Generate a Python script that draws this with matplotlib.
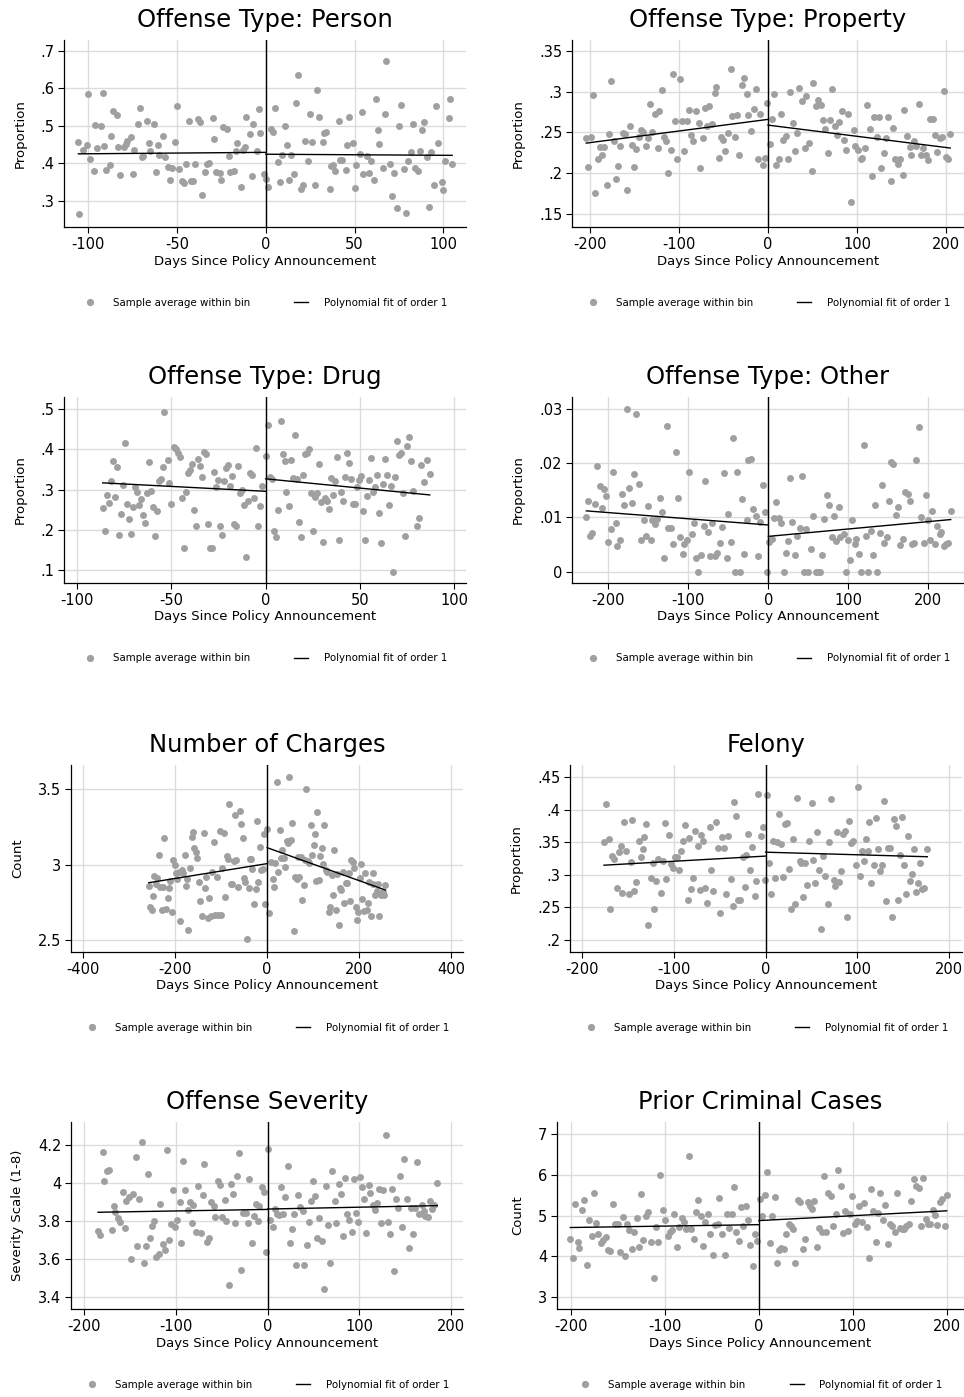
import matplotlib
matplotlib.use("Agg")
import matplotlib.pyplot as plt
from matplotlib.lines import Line2D

plt.rcParams["font.family"] = ["DejaVu Sans"]

# ---------------------------------------------------------------------
# Binned sample means (day, value) for each outcome
# ---------------------------------------------------------------------
person_pts = [
    (-105.6, .456), (-105.4, .264), (-103, .436), (-101, .449), (-100, .585), (-99, .412), (-97, .378), (-96, .503), (-95, .440), (-93, .499),
    (-92, .587), (-91, .447), (-90, .381), (-88, .396), (-87, .472), (-86, .540), (-84, .528), (-83, .442), (-82, .369), (-80, .442),
    (-79, .451), (-78, .460), (-76, .469), (-75, .371), (-74, .436), (-72, .504), (-71, .547), (-70, .416), (-69, .419), (-67, .513),
    (-66, .454), (-65, .433), (-63, .504), (-62, .376), (-61, .449), (-60, .421), (-58, .472), (-57, .417), (-55, .391), (-54, .355),
    (-53, .387), (-51, .456), (-50, .553), (-49, .385), (-47, .352), (-46, .346), (-45, .398), (-43, .513), (-42, .352), (-41, .352),
    (-40, .399), (-38, .518), (-37, .510), (-36, .316), (-34, .376), (-33, .399), (-32, .400), (-30, .521), (-29, .464), (-28, .376),
    (-26, .375), (-25, .356), (-24, .497), (-22, .490), (-21, .420), (-20, .376), (-18, .378), (-17, .433), (-16, .454), (-14, .337),
    (-13, .435), (-12, .444), (-11, .522), (-9, .479), (-8, .366), (-7, .504), (-5, .433), (-4, .544), (-3, .480), (-1, .371),
    (0, .358), (1, .337), (3, .490), (4, .483), (5, .548), (7, .402), (8, .351), (9, .422), (11, .500), (12, .449),
    (13, .356), (14, .423), (16, .372), (17, .561), (18, .636), (20, .332), (21, .341), (22, .459), (24, .406), (25, .530),
    (26, .456), (28, .342), (29, .594), (30, .524), (32, .456), (33, .480), (34, .483), (36, .330), (37, .392), (38, .394),
    (39, .380), (41, .513), (42, .408), (43, .408), (45, .381), (46, .449), (47, .522), (49, .454), (50, .334), (51, .396),
    (53, .424), (54, .536), (55, .371), (57, .419), (58, .375), (59, .405), (61, .355), (62, .571), (63, .489), (64, .452),
    (66, .388), (67, .531), (68, .672), (70, .399), (71, .313), (72, .375), (74, .280), (75, .499), (76, .555), (78, .385),
    (79, .267), (80, .405), (82, .431), (83, .504), (84, .388), (86, .380), (87, .433), (88, .488), (89, .509), (91, .416),
    (92, .284), (93, .429), (95, .341), (96, .552), (97, .455), (99, .350), (100, .328), (101, .407), (103, .520), (104, .570),
    (105, .397),
]

property_pts = [
    (-204, .243), (-201.5, .208), (-199, .245), (-196, .296), (-194, .176), (-191, .218), (-189, .232), (-186, .223), (-184, .232), (-181, .186),
    (-178, .248), (-176, .313), (-173, .239), (-171, .193), (-168, .209), (-166, .234), (-163, .249), (-160, .248), (-158, .180), (-155, .258),
    (-153, .235), (-150, .208), (-148, .230), (-145, .244), (-142, .253), (-140, .250), (-137, .233), (-135, .243), (-132, .285), (-130, .251),
    (-127, .273), (-124, .231), (-122, .276), (-119, .302), (-117, .244), (-114, .240), (-112, .201), (-109, .229), (-107, .321), (-104, .264),
    (-102, .217), (-99, .315), (-96, .264), (-94, .227), (-91, .264), (-89, .277), (-86, .247), (-84, .239), (-81, .276), (-78, .262),
    (-76, .206), (-73, .243), (-71, .280), (-68, .258), (-66, .282), (-63, .260), (-60, .298), (-58, .305), (-55, .219), (-53, .245),
    (-50, .241), (-48, .227), (-45, .249), (-42, .327), (-40, .270), (-37, .245), (-35, .271), (-32, .223), (-29, .308), (-27, .317),
    (-24, .297), (-22, .271), (-19, .252), (-16, .279), (-14, .303), (-11, .218), (-9, .273), (-6, .210), (-3, .219), (-1, .286),
    (2, .236), (4.5, .267), (7, .297), (9, .210), (12, .217), (15, .273), (17, .241), (20, .246), (22, .217), (25, .299),
    (28, .262), (30, .227), (33, .249), (35, .304), (38, .289), (41, .231), (43, .294), (46, .237), (49, .203), (51, .310),
    (54, .282), (56, .290), (59, .284), (62, .265), (64, .254), (67, .225), (70, .265), (72, .303), (75, .258), (77, .247),
    (80, .263), (83, .276), (85, .241), (88, .229), (90, .272), (93, .165), (96, .253), (98, .234), (101, .228), (104, .218),
    (106, .219), (109, .231), (111, .283), (114, .254), (117, .197), (119, .269), (122, .245), (125, .269), (127, .207), (130, .225),
    (133, .243), (135, .269), (138, .191), (140, .256), (143, .217), (146, .211), (148, .217), (151, .198), (153, .277), (156, .246),
    (159, .232), (161, .222), (164, .240), (166, .233), (169, .285), (172, .222), (174, .231), (177, .222), (180, .216), (182, .266),
    (185, .266), (187, .247), (190, .226), (193, .243), (195, .244), (197, .301), (200, .220), (202, .217), (204.5, .248),
]

drug_pts = [
    (-86.4, .254), (-85.3, .198), (-84.3, .288), (-83.2, .267), (-82, .321), (-81, .372), (-80, .281), (-79, .356), (-77.7, .187), (-76.7, .239),
    (-75.6, .311), (-74.6, .417), (-73.5, .264), (-72.4, .227), (-71.4, .189), (-70.3, .258), (-69.3, .306), (-68.2, .294), (-67, .262), (-66, .277),
    (-65, .236), (-64, .217), (-63, .293), (-61.8, .368), (-60.8, .297), (-59.7, .258), (-58.7, .185), (-57.6, .248), (-56.5, .322), (-55.5, .326),
    (-54.4, .356), (-53.9, .492), (-52, .374), (-51, .317), (-50, .264), (-48.8, .406), (-47.7, .400), (-46.6, .392), (-45.6, .382), (-44.5, .280),
    (-43.5, .155), (-42.4, .295), (-41.3, .342), (-40.3, .350), (-39.2, .364), (-38.2, .250), (-37.1, .210), (-36, .375), (-35, .360), (-33.9, .331),
    (-32.9, .393), (-31.8, .388), (-30.7, .216), (-29.7, .155), (-28.6, .155), (-27.6, .343), (-26.5, .307), (-25.4, .324), (-24.4, .210), (-23.3, .188),
    (-22.3, .321), (-21.2, .354), (-20.1, .362), (-19.1, .309), (-18, .335), (-17, .215), (-15.9, .211), (-14.8, .360), (-13.8, .292), (-12.7, .300),
    (-11.7, .261), (-10.6, .134), (-9.5, .272), (-8.5, .342), (-7.4, .336), (-6.4, .280), (-5.3, .403), (-4.2, .211), (-3.2, .259), (-2.1, .308),
    (0.2, .384), (1.4, .461), (2.5, .331), (3.5, .326), (4.6, .197), (5.7, .183), (6.7, .250), (8, .471), (9, .388), (10, .371),
    (11, .295), (12.2, .260), (13.3, .374), (14.3, .328), (15.4, .436), (16.4, .326), (17.7, .219), (18.7, .183), (19.8, .337), (20.8, .389),
    (21.9, .390), (23, .402), (24, .293), (25, .198), (26, .282), (27.2, .293), (28.3, .363), (29.3, .270), (30.4, .169), (31.4, .279),
    (32.5, .272), (33.6, .253), (34.6, .330), (35.7, .288), (36.7, .321), (37.8, .380), (38.9, .176), (39.9, .295), (41, .273), (42, .331),
    (43.1, .390), (44.2, .367), (45.2, .326), (46.3, .264), (47.3, .264), (48.4, .307), (49.5, .324), (50.5, .334), (51.6, .248), (52.7, .174),
    (53.7, .284), (54.8, .324), (55.8, .379), (56.9, .295), (57.9, .307), (59, .336), (60, .242), (61.1, .167), (62.2, .314), (63.3, .376),
    (64.3, .336), (65.4, .261), (66.4, .310), (67.5, .097), (68.5, .331), (69.6, .421), (70.7, .385), (71.7, .390), (72.8, .293), (73.9, .184),
    (74.9, .408), (76, .431), (77, .372), (78, .298), (80, .209), (81.3, .231), (82.5, .362), (84, .320), (85.5, .374), (87, .340),
]

other_pts = [
    (-227.5, .0100), (-225.4, .0130), (-223, .0066), (-220, .0071), (-217, .0125), (-214, .0194), (-211, .0158), (-208, .0117), (-206, .0153), (-203, .0139),
    (-200, .0055), (-197, .0079), (-194, .0183), (-191, .0089), (-189, .0047), (-186, .0059), (-183, .0144), (-180, .0122), (-177, .0299), (-174, .0154),
    (-171, .0126), (-168, .0180), (-165, .0291), (-162, .0162), (-159, .0058), (-156, .0095), (-153, .0065), (-150, .0121), (-147, .0058), (-145, .0095),
    (-142, .0087), (-139, .0097), (-136, .0135), (-133, .0110), (-130, .0025), (-127, .0268), (-125, .0080), (-122, .0080), (-119, .0051), (-116, .0220),
    (-113, .0135), (-110, .0064), (-107, .0033), (-105, .0051), (-102, .0058), (-99, .0184), (-96, .0070), (-93, .0090), (-90, .0026), (-87.5, 0),
    (-84, .0031), (-81, .0084), (-79, .0168), (-76, .0073), (-73, .0028), (-70, .0090), (-67, .0028), (-64, .0034), (-61, .0052), (-58, .0082),
    (-55, .0181), (-52, .0026), (-50, .0106), (-47, .0055), (-44, .0247), (-42, 0), (-39, .0184), (-36, 0), (-33, .0133), (-30, .0032),
    (-27, .0095), (-25, .0206), (-22, .0207), (-19, .0116), (-16, .0103), (-13, .0028), (-10, .0092), (-7, .0159), (-4, .0110), (-2, 0),
    (1, .0054), (4, .0060), (7, .0098), (10, .0129), (13, .0099), (16, .0090), (19, 0), (22, .0034), (25, .0057), (27, .0172),
    (30, .0092), (33, .0031), (36, .0066), (39, .0080), (42, .0176), (44.5, 0), (47, .0078), (50, 0), (53, .0041), (56, .0102),
    (59, 0), (62, 0), (65, 0), (67.5, .0031), (70, .0097), (73, .0141), (76, .0122), (79, .0063), (82, .0103), (85, .0056),
    (88, .0119), (90, .0064), (94, .0070), (96.5, 0), (99.5, .0058), (102, .0022), (105, .0096), (108, .0051), (110, .0061), (113, .0032),
    (116, 0), (119, .0233), (122, .0066), (125, 0), (128, .0075), (131, .0030), (133, .0123), (136, 0), (139, .0071), (142, .0160),
    (145, .0053), (148, .0063), (151, .0131), (153, .0203), (156, .0199), (159, .0105), (162, .0119), (165, .0049), (168, .0061), (171, .0146),
    (174, .0143), (177, .0131), (180, .0050), (182.5, .0053), (185, .0206), (188, .0267), (191, .0100), (194, .0052), (197, .0142), (200, .0095),
    (202, .0058), (205, .0111), (208, .0051), (211, .0084), (214, .0069), (216, .0073), (219, .0048), (222, .0050), (224, .0052), (228, .0112),
]

charges_pts = [
    (-257, 2.859), (-255, 2.717), (-251, 2.700), (-248, 2.793), (-245, 2.926), (-242, 2.868), (-240, 2.908), (-235, 3.065), (-232, 2.850), (-229, 2.695),
    (-226, 2.850), (-223, 3.178), (-220, 2.702), (-216, 2.777), (-213, 2.844), (-210, 2.888), (-207, 2.686), (-204, 3.032), (-201, 2.999), (-197, 2.946),
    (-195, 2.906), (-192, 2.948), (-189, 2.626), (-186, 2.961), (-183, 2.943), (-179, 3.061), (-177, 2.857), (-174, 2.906), (-171, 2.567), (-168, 2.974),
    (-164, 3.185), (-161, 3.218), (-158, 3.108), (-155, 3.084), (-152, 3.044), (-148, 2.886), (-145, 2.755), (-142, 2.655), (-138, 3.210), (-135, 2.846),
    (-132, 2.919), (-129, 2.642), (-126, 2.777), (-122, 2.660), (-119, 2.952), (-116, 3.152), (-113, 2.662), (-109, 2.917), (-106, 2.664), (-103, 3.225),
    (-100, 2.662), (-97, 2.979), (-94, 3.212), (-91, 2.784), (-88, 3.059), (-85, 3.034), (-82, 3.400), (-79, 2.873), (-76, 2.873), (-72, 3.023),
    (-69, 3.329), (-67, 3.030), (-63, 2.848), (-60, 3.358), (-56, 3.269), (-53, 3.178), (-51, 2.908), (-47, 2.884), (-44, 2.502), (-40, 2.844),
    (-38, 3.037), (-35, 3.034), (-32, 2.968), (-28, 2.739), (-25, 2.837), (-22, 3.289), (-19, 2.881), (-16, 3.114), (-13, 2.963), (-9, 2.968),
    (-6, 3.203), (-4, 2.737), (-1, 3.238), (4, 2.680), (9, 3.014), (12, 2.906), (15, 2.850), (18, 3.012), (21, 3.549), (24, 2.950),
    (27, 3.227), (30, 3.041), (33, 3.094), (36, 3.043), (39, 2.981), (43, 3.155), (46, 3.143), (48, 3.584), (51, 3.163), (54, 3.278),
    (58, 2.560), (61, 2.915), (64, 2.906), (67, 3.050), (69, 2.920), (73, 3.048), (76, 2.764), (79, 2.864), (82, 3.030), (85, 3.504),
    (88, 3.021), (91, 3.010), (95, 3.265), (98, 3.063), (101, 3.130), (104, 3.201), (107, 2.892), (109, 3.347), (112, 2.897), (115, 3.054),
    (119, 3.110), (122, 3.003), (124, 3.263), (128, 2.961), (131, 2.952), (134, 2.684), (137, 2.720), (140, 2.930), (143, 2.795), (146, 3.096),
    (149, 2.695), (152, 2.939), (155, 2.600), (158, 2.846), (161, 2.830), (164, 2.952), (168, 2.742), (171, 2.877), (174, 2.875), (177, 2.941),
    (180, 2.757), (183, 3.030), (186, 3.019), (189, 2.974), (192, 2.715), (195, 2.631), (198, 2.684), (201, 2.908), (204, 3.006), (207, 2.773),
    (210, 2.693), (213, 2.941), (216, 2.697), (219, 2.742), (222, 2.884), (225, 2.655), (229, 2.943), (231, 2.868), (234, 2.797), (238, 2.824),
    (241, 2.873), (244, 2.657), (247, 2.797), (251, 2.820), (254, 2.800), (257, 2.861),
]

felony_pts = [
    (-176, .351), (-173.5, .409), (-171, .356), (-169, .247), (-167, .329), (-165, .325), (-162, .280), (-160, .336), (-158, .345), (-156, .273),
    (-154, .381), (-152, .337), (-149, .270), (-147, .320), (-145, .385), (-143, .275), (-141, .289), (-138, .352), (-136, .327), (-134, .340),
    (-132, .359), (-130, .378), (-128, .223), (-125, .295), (-123, .319), (-121, .248), (-119, .290), (-117, .324), (-114, .272), (-112, .322),
    (-110, .380), (-108, .294), (-105, .361), (-103, .317), (-101, .310), (-99, .328), (-97, .328), (-94, .308), (-92, .337), (-90, .352),
    (-87.5, .377), (-85, .261), (-83, .357), (-81, .278), (-79, .296), (-76.6, .367), (-74, .344), (-72, .277), (-70, .362), (-68, .352),
    (-66, .280), (-64, .257), (-61, .374), (-59, .308), (-57, .276), (-54, .381), (-51.5, .342), (-50, .242), (-48, .359), (-45, .342),
    (-43, .271), (-41, .360), (-38, .294), (-36, .252), (-34, .412), (-32, .390), (-30, .262), (-28, .262), (-25, .328), (-23, .281),
    (-21, .331), (-19, .363), (-17, .308), (-14.5, .343), (-12, .267), (-10, .290), (-8, .425), (-5.5, .360), (-3, .374), (-1, .293),
    (1.5, .423), (4, .318), (6, .270), (8, .352), (10, .295), (12, .350), (14.5, .394), (17, .347), (19, .297), (21, .378),
    (23, .380), (25, .309), (27.5, .248), (30, .356), (32, .256), (34.5, .419), (37, .322), (39, .318), (41, .266), (43, .318),
    (45.5, .285), (47.5, .352), (50, .411), (52, .323), (54, .287), (56, .366), (58.5, .307), (60.5, .217), (63, .329), (65, .299),
    (67.5, .255), (69.5, .351), (71.5, .416), (74, .293), (76, .283), (78, .366), (80, .289), (82.4, .306), (84.5, .363), (86.7, .368),
    (89, .236), (91, .383), (93, .349), (95, .352), (98, .316), (100.6, .435), (103, .299), (105, .337), (107, .322), (109, .356),
    (111, .337), (113, .382), (115, .287), (117.6, .315), (120, .388), (122, .340), (124, .306), (126.7, .315), (129, .413), (131, .260),
    (133, .341), (135, .341), (138, .236), (140, .386), (142, .375), (144, .261), (146, .331), (148.5, .389), (150.6, .315), (153, .270),
    (155, .360), (157, .290), (159.5, .302), (161.5, .340), (164, .274), (166, .287), (168, .319), (170, .279), (172, .280), (176, .340),
]

severity_pts = [
    (-185, 3.749), (-182.5, 3.726), (-180, 4.163), (-178, 4.009), (-175, 4.063), (-173, 4.067), (-170, 3.753), (-168, 3.879), (-166, 3.849), (-163, 3.816),
    (-161, 3.796), (-158, 3.954), (-156, 3.765), (-154, 3.907), (-151.5, 3.928), (-149, 3.598), (-147, 3.944), (-144, 4.139), (-142, 3.667), (-140, 3.916),
    (-137, 4.214), (-135, 3.577), (-133, 3.668), (-130, 4.049), (-128, 3.711), (-126, 3.775), (-124, 3.802), (-121.5, 3.610), (-119, 3.625), (-117, 3.888),
    (-114.5, 3.677), (-112, 3.646), (-110, 4.172), (-108, 3.700), (-105, 3.786), (-103, 3.965), (-101, 3.770), (-99, 3.807), (-96, 3.902), (-94, 3.682),
    (-92, 4.114), (-90, 3.965), (-87, 3.858), (-85, 3.898), (-83, 3.789), (-81, 3.884), (-78, 3.744), (-76, 3.982), (-73, 3.739), (-71, 3.939),
    (-69, 4.102), (-66, 3.691), (-64, 3.709), (-61.5, 3.900), (-59, 3.877), (-57, 3.823), (-54, 4.012), (-52, 3.988), (-49.5, 3.823), (-47, 3.911),
    (-45, 3.798), (-42.5, 3.461), (-40, 3.995), (-38, 3.944), (-36, 3.789), (-33, 4.039), (-31, 4.158), (-29, 3.544), (-26.5, 3.840), (-24, 3.840),
    (-22, 3.789), (-20, 4.023), (-17.5, 3.684), (-15, 3.826), (-13, 3.888), (-11, 3.798), (-9, 3.881), (-6, 3.981), (-4, 3.953), (-2, 3.637),
    (0.5, 4.181), (3, 3.805), (5.5, 3.767), (7.5, 3.861), (10, 3.835), (12, 3.830), (14.5, 3.979), (17, 3.839), (19, 3.926), (22, 4.089),
    (24, 3.686), (26.5, 3.758), (29, 3.837), (31, 3.568), (33, 3.939), (35.5, 3.874), (38, 3.854), (40, 3.568), (42.5, 3.675), (45, 3.793),
    (47, 3.907), (49.5, 4.009), (52, 3.933), (54, 3.711), (56.5, 3.814), (59, 3.696), (61, 3.442), (63.6, 3.984), (66, 3.777), (68, 3.581),
    (70.5, 4.061), (73, 3.905), (75, 3.789), (77.5, 3.996), (80, 3.940), (82, 3.719), (84.7, 4.026), (87, 3.835), (89, 3.804), (91.6, 3.742),
    (94, 4.023), (96, 3.842), (98.5, 3.796), (101, 4.033), (103, 3.979), (105.5, 3.914), (107.6, 3.739), (110, 3.991), (112, 3.947), (114.5, 3.886),
    (117, 3.858), (119, 3.896), (121.5, 3.968), (124, 3.791), (126, 3.963), (128.7, 4.254), (131, 3.796), (133, 3.732), (135.6, 3.970), (138, 3.537),
    (140, 3.914), (142, 3.870), (144.7, 4.035), (147, 3.768), (149, 4.128), (151.6, 3.914), (154, 3.656), (156, 3.870), (158.5, 3.730), (161, 3.870),
    (163, 4.112), (165, 3.839), (168, 3.884), (170, 3.853), (172, 3.825), (174.5, 3.823), (177, 3.905), (179, 3.865), (181, 3.884), (185, 4.002),
]

prior_pts = [
    (-200.7, 4.431), (-198, 3.973), (-196, 5.282), (-193, 4.358), (-191, 4.219), (-188, 5.143), (-186, 5.380), (-183, 3.793), (-181, 4.898), (-178, 4.513),
    (-176, 5.569), (-173, 4.816), (-171, 4.546), (-168, 4.333), (-166, 4.407), (-163, 4.472), (-161, 4.153), (-158, 4.129), (-155, 5.290), (-153, 4.808),
    (-150, 4.808), (-148, 4.112), (-145, 4.971), (-143, 4.014), (-140, 4.791), (-138, 4.660), (-135, 4.194), (-133, 4.603), (-130, 4.939), (-128, 4.243),
    (-125, 5.536), (-123, 4.407), (-120, 4.996), (-118, 5.102), (-115, 4.350), (-112, 3.475), (-110, 4.734), (-107, 4.350), (-105, 6.002), (-102, 5.151),
    (-100, 4.890), (-97, 4.505), (-95, 4.595), (-92, 4.652), (-90, 5.037), (-87, 4.227), (-85, 4.734), (-82, 4.939), (-80, 4.857), (-78, 4.669),
    (-74, 6.476), (-72, 4.669), (-69.5, 4.431), (-67, 5.102), (-64.5, 5.389), (-62, 4.996), (-59, 4.268), (-57, 4.857), (-54, 5.037), (-52, 4.554),
    (-49, 4.031), (-47, 4.775), (-44, 4.808), (-42, 5.438), (-39, 4.554), (-36.5, 4.031), (-34, 5.037), (-31.5, 4.710), (-29, 5.053), (-26.6, 5.708),
    (-24, 4.611), (-21.6, 4.374), (-19, 5.209), (-16.7, 4.742), (-14, 5.241), (-11.7, 4.898), (-9, 4.276), (-6.4, 3.769), (-4, 4.562), (-2.5, 4.374),
    (1, 5.405), (3.5, 5.004), (6.4, 5.511), (9, 6.067), (11.7, 4.333), (14.2, 4.988), (16.7, 5.454), (19, 3.834), (21.6, 4.162), (24, 4.202),
    (26.6, 4.194), (29, 4.562), (31.6, 4.791), (34, 4.751), (36.5, 4.677), (39, 3.834), (41.5, 5.397), (44, 5.331), (46.5, 4.178), (49, 4.423),
    (52, 5.331), (54, 5.250), (56.7, 5.168), (59, 5.364), (61.7, 4.235), (64, 4.710), (66.7, 4.595), (69, 5.969), (71.6, 4.595), (74, 5.569),
    (76.6, 5.487), (79, 4.742), (81.6, 5.037), (84.5, 6.125), (87, 5.724), (89.4, 4.570), (92, 5.110), (94.4, 4.628), (97, 5.037), (99.4, 5.487),
    (102, 4.808), (104.4, 4.881), (107, 5.233), (109.4, 4.849), (112, 5.323), (114.6, 4.734), (117, 3.957), (119.6, 5.659), (122, 5.127), (124.6, 4.366),
    (127, 5.078), (129.5, 5.552), (132, 4.898), (134.8, 5.258), (137, 4.317), (139.8, 4.808), (142, 4.759), (144.8, 4.611), (147, 5.552), (149.8, 4.693),
    (152, 4.669), (154.7, 4.685), (157, 4.742), (159.7, 4.808), (162.4, 5.356), (165, 5.912), (167.5, 5.732), (170, 5.675), (173, 4.742), (175, 5.920),
    (177.8, 4.930), (180, 4.800), (182.7, 4.800), (185, 5.143), (187.8, 5.012), (190, 4.775), (192.9, 5.331), (195, 5.413), (197.9, 4.759), (200, 5.519),
]

# linear fit values on each side of the cutoff: (start, at 0), (at 0, end)
person_fit = [(.425, .429), (.424, .421)]
property_fit = [(.237, .266), (.259, .231)]
drug_fit = [(.317, .296), (.327, .287)]
other_fit = [(.0112, .0086), (.0065, .0096)]
charges_fit = [(2.879, 3.006), (3.112, 2.830)]
felony_fit = [(.315, .329), (.335, .328)]
severity_fit = [(3.846, 3.861), (3.863, 3.881)]
prior_fit = [(4.71, 4.78), (4.88, 5.12)]

titles = ["Offense Type: Person", "Offense Type: Property", "Offense Type: Drug",
          "Offense Type: Other", "Number of Charges", "Felony",
          "Offense Severity", "Prior Criminal Cases"]
ylabels = ["Proportion", "Proportion", "Proportion", "Proportion",
           "Count", "Proportion", "Severity Scale (1-8)", "Count"]

xticks = [
    [-100, -50, 0, 50, 100],
    [-200, -100, 0, 100, 200],
    [-100, -50, 0, 50, 100],
    [-200, -100, 0, 100, 200],
    [-400, -200, 0, 200, 400],
    [-200, -100, 0, 100, 200],
    [-200, -100, 0, 100, 200],
    [-200, -100, 0, 100, 200],
]
yticks = [
    [.3, .4, .5, .6, .7],
    [.15, .2, .25, .3, .35],
    [.1, .2, .3, .4, .5],
    [0, .01, .02, .03],
    [2.5, 3, 3.5],
    [.2, .25, .3, .35, .4, .45],
    [3.4, 3.6, 3.8, 4, 4.2],
    [3, 4, 5, 6, 7],
]

# ---------------------------------------------------------------------
# Layout: axes boxes in pixels (left, right, top, bottom) and limits
# ---------------------------------------------------------------------
W, H = 964, 1397
boxes = [
    (64, 466, 40, 227), (572, 964, 40, 227),
    (64, 466, 397, 583), (572, 964, 397, 583),
    (71, 463, 765, 952), (570, 962, 765, 952),
    (71, 463, 1122, 1309), (557, 964, 1122, 1309),
]
xlims = [(-113.7, 112.8), (-220, 220), (-106.9, 106.2), (-245.4, 244.6),
         (-426, 425.4), (-213, 213.8), (-214.5, 213), (-214.9, 218.4)]
ylims = [(.23, .7285), (.1345, .363), (.0685, .53), (-.0021, .0322),
         (2.418, 3.662), (.1816, .469), (3.337, 4.321), (2.71, 7.30)]

DOT = "#a0a0a0"
GRID = "#dcdcdc"


def stata_label(v):
    s = f"{v:g}"
    if s.startswith("0."):
        s = s[1:]
    elif s.startswith("-0."):
        s = "-" + s[2:]
    return s


def draw_panel(fig, box, pts, fit, title, ylabel, xt, yt, xl, yl):
    l, r, t, b = box
    ax = fig.add_axes([l / W, 1 - b / H, (r - l) / W, (b - t) / H])
    xs = [p[0] for p in pts]
    ys = [p[1] for p in pts]

    ax.set_xlim(*xl)
    ax.set_ylim(*yl)
    ax.set_xticks(xt)
    ax.set_xticklabels([stata_label(v) for v in xt])
    ax.set_yticks(yt)
    ax.set_yticklabels([stata_label(v) for v in yt])
    ax.grid(True, color=GRID, linewidth=1.0, zorder=0)
    ax.set_axisbelow(True)

    ax.scatter(xs, ys, s=25, color=DOT, linewidths=0, zorder=2)

    left_x = [min(xs), 0]
    right_x = [0, max(xs)]
    ax.plot(left_x, fit[0], color="black", linewidth=1.0, zorder=3)
    ax.plot(right_x, fit[1], color="black", linewidth=1.0, zorder=3)
    ax.axvline(0, color="black", linewidth=1.0, zorder=3)

    for side in ("top", "right"):
        ax.spines[side].set_visible(False)
    for side in ("left", "bottom"):
        ax.spines[side].set_linewidth(0.9)
    ax.tick_params(axis="both", labelsize=10.5, length=4, width=0.8, pad=3)

    ax.set_title(title, fontsize=17.5, pad=9.5)
    ax.set_xlabel("Days Since Policy Announcement", fontsize=9.5, labelpad=2)
    ax.set_ylabel(ylabel, fontsize=9.5, labelpad=10)

    handles = [
        Line2D([], [], marker="o", linestyle="none", color=DOT, markersize=4.2),
        Line2D([], [], color="black", linewidth=1.0),
    ]
    ax.legend(handles, ["Sample average within bin", "Polynomial fit of order 1"],
              loc="center", bbox_to_anchor=(0.5, -0.405), ncol=2, frameon=False,
              fontsize=7.4, handlelength=1.4, handletextpad=1.5, columnspacing=4.3)
    return ax


fig = plt.figure(figsize=(W / 100, H / 100), dpi=100)
fig.patch.set_facecolor("white")

panel_pts = [person_pts, property_pts, drug_pts, other_pts,
             charges_pts, felony_pts, severity_pts, prior_pts]
panel_fits = [person_fit, property_fit, drug_fit, other_fit,
              charges_fit, felony_fit, severity_fit, prior_fit]

for i in range(8):
    draw_panel(fig, boxes[i], panel_pts[i], panel_fits[i], titles[i], ylabels[i],
               xticks[i], yticks[i], xlims[i], ylims[i])

fig.savefig("out.png", dpi=100)
